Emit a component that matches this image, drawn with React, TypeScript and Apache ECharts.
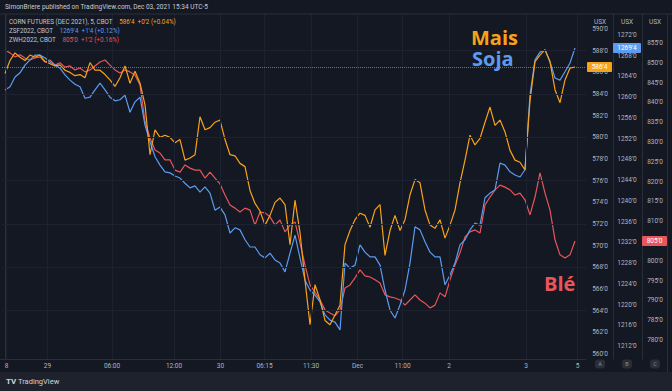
import React, { useEffect, useRef } from 'react';
import * as echarts from 'echarts';

// time index of each sample (5-minute bars, resampled)
const barIndex = Array.from({ length: 115 }, (_, i) => i);

// x-axis tick positions (in bar index) and their labels
const xTickPos = [0.3, 8.5, 21.4, 33.8, 43.1, 51.9, 61.2, 70.5, 79.5, 88.8, 104.2, 114.5];
const xTickLabels = ['8', '29', '06:00', '12:00', '30', '06:15', '11:30', 'Dec', '11:00', '2', '3', '5'];

// y-axis tick labels
const cornTicks = [560, 562, 564, 566, 568, 570, 572, 574, 576, 578, 580, 582, 584, 586, 588, 590];
const soyTicks = [1212, 1216, 1220, 1224, 1228, 1232, 1236, 1240, 1244, 1248, 1252, 1256, 1260, 1264, 1268, 1272];
const wheatTicks = [780, 785, 790, 795, 800, 805, 810, 815, 820, 825, 830, 835, 840, 845, 850, 855];
const gridTicks = [564, 568, 572, 576, 580, 584, 588];

// Corn futures Dec 2021 (USX)
const corn = [
  585.9, 587.1, 587.8, 587.4, 587.1, 587.6, 587.4, 587.6, 587.0, 586.8,
  586.6, 586.7, 586.2, 586.0, 585.7, 585.8, 585.5, 586.9, 586.2, 586.2,
  585.8, 585.3, 584.7, 585.5, 586.6, 585.0, 586.1, 585.0, 583.0, 578.4,
  580.7, 580.0, 580.2, 580.0, 579.5, 579.8, 577.9, 578.1, 578.4, 581.9,
  580.7, 580.9, 581.4, 581.6, 579.8, 578.4, 578.3, 577.6, 577.3, 575.1,
  573.9, 573.2, 571.9, 572.8, 574.0, 574.4, 573.8, 570.1, 574.2, 571.2,
  566.8, 562.7, 566.4, 565.0, 563.1, 562.7, 563.6, 564.5, 570.1, 571.4,
  572.4, 573.0, 572.8, 571.7, 573.3, 573.8, 569.1, 571.4, 572.8, 571.4,
  572.4, 574.7, 576.1, 575.8, 573.3, 571.9, 571.6, 572.4, 570.7, 571.9,
  573.3, 575.8, 577.9, 580.2, 579.3, 579.9, 581.4, 582.8, 581.1, 581.6,
  580.5, 578.8, 577.9, 577.7, 577.0, 583.4, 587.0, 587.6, 588.1, 587.0,
  584.4, 583.2, 585.3, 586.4, 586.5,
];

// Soybeans ZSF2022 (USX)
const soy = [
  1261.4, 1262.0, 1263.9, 1264.7, 1266.2, 1267.2, 1268.1, 1268.1, 1267.6, 1266.8,
  1266.2, 1265.6, 1264.3, 1263.3, 1262.5, 1262.0, 1259.8, 1260.0, 1261.4, 1262.7,
  1261.4, 1260.0, 1259.3, 1259.5, 1260.4, 1257.1, 1259.1, 1260.0, 1254.6, 1251.4,
  1248.5, 1246.9, 1245.6, 1245.4, 1244.8, 1244.4, 1243.4, 1242.5, 1242.9, 1241.7,
  1242.7, 1241.5, 1238.2, 1238.8, 1237.3, 1233.8, 1234.8, 1234.4, 1232.5, 1231.1,
  1231.1, 1229.6, 1229.0, 1229.9, 1228.6, 1228.0, 1226.3, 1229.9, 1233.4, 1229.0,
  1224.7, 1222.8, 1221.8, 1220.5, 1218.0, 1217.0, 1216.6, 1215.1, 1228.0, 1227.0,
  1227.6, 1231.5, 1230.1, 1229.2, 1229.2, 1227.6, 1222.8, 1218.9, 1217.4, 1219.9,
  1222.8, 1228.0, 1235.0, 1234.4, 1232.1, 1230.1, 1229.2, 1229.2, 1223.8, 1225.7,
  1228.0, 1231.5, 1232.5, 1234.4, 1235.7, 1235.3, 1240.6, 1241.5, 1242.1, 1247.3,
  1246.9, 1245.6, 1245.0, 1244.6, 1246.0, 1260.4, 1267.2, 1268.7, 1269.1, 1266.8,
  1263.7, 1263.3, 1264.9, 1266.6, 1269.5,
];

// Wheat ZWH2022 (USX)
const wheat = [
  853.2, 852.5, 851.5, 852.0, 851.2, 850.7, 851.2, 851.5, 850.2, 850.7,
  849.4, 850.0, 848.9, 849.2, 848.2, 848.7, 847.7, 848.2, 849.2, 850.2,
  850.7, 849.4, 848.2, 847.4, 848.2, 847.7, 846.9, 844.4, 835.1, 831.0,
  828.0, 827.2, 825.5, 825.5, 822.9, 822.4, 824.2, 823.4, 822.9, 822.9,
  820.9, 822.4, 820.9, 819.4, 816.6, 814.1, 813.3, 812.3, 813.3, 812.8,
  809.0, 812.3, 812.1, 811.1, 809.0, 810.3, 807.3, 809.0, 809.8, 804.5,
  798.9, 793.9, 792.1, 790.1, 787.6, 786.8, 786.1, 787.6, 793.1, 793.9,
  795.7, 797.7, 796.2, 795.9, 795.2, 794.4, 791.4, 790.9, 790.6, 790.1,
  788.8, 790.1, 791.4, 790.1, 789.3, 788.1, 788.8, 791.9, 790.9, 795.2,
  798.9, 802.0, 806.0, 807.3, 807.8, 807.0, 814.1, 816.1, 817.9, 819.1,
  818.6, 817.9, 816.6, 817.1, 815.4, 811.6, 816.1, 822.2, 817.1, 812.8,
  805.3, 801.5, 800.7, 801.5, 805.0,
];

const lastLabels = { corn: "586'4", soy: "1269'4", wheat: "805'0" };

const ORANGE = '#f7a21b';
const BLUE = '#5b9cf0';
const RED = '#e8555a';
const BG = '#141823';
const TXT = '#b2b5be';
const FONT = 'Roboto, "Noto Sans", sans-serif';

const fmt = (v: number) => `${Math.round(v)}'0`;

export default function App() {
  const ref = useRef<HTMLDivElement>(null);
  useEffect(() => {
    const chart = echarts.init(ref.current!, undefined, { renderer: 'svg' });
    const pairs = (arr: number[]) => arr.map((v, i) => [barIndex[i], v]);
    const option: any = {
      animation: false,
      backgroundColor: BG,
      grid: { left: 2, right: 86, top: 14, bottom: 32, containLabel: false },
      xAxis: {
        type: 'value',
        min: -0.6,
        max: 116.2,
        axisLine: { show: false },
        axisTick: { show: false },
        splitLine: { show: false },
        axisLabel: {
          customValues: xTickPos,
          margin: 3,
          color: TXT,
          fontSize: 6.5,
          fontFamily: FONT,
          formatter: (v: number) => {
            const i = xTickPos.findIndex((p) => Math.abs(p - v) < 0.01);
            return i >= 0 ? xTickLabels[i] : '';
          },
        },
      },
      yAxis: [
        {
          type: 'value', position: 'right', offset: 0, min: 559.54, max: 591.39,
          axisLine: { show: true, lineStyle: { color: '#2a2e39' } },
          axisTick: { show: false }, splitLine: { show: false },
          axisLabel: { customValues: cornTicks, formatter: fmt, color: TXT, fontSize: 6.5, fontFamily: FONT, align: 'center', margin: 14 },
        },
        {
          type: 'value', position: 'right', offset: 27, min: 1209.49, max: 1276.05,
          axisLine: { show: true, lineStyle: { color: '#2a2e39' } },
          axisTick: { show: false }, splitLine: { show: false },
          axisLabel: { customValues: soyTicks, formatter: fmt, color: TXT, fontSize: 6.5, fontFamily: FONT, align: 'center', margin: 14 },
        },
        {
          type: 'value', position: 'right', offset: 56, min: 775.2, max: 862.32,
          axisLine: { show: true, lineStyle: { color: '#2a2e39' } },
          axisTick: { show: false }, splitLine: { show: false },
          axisLabel: { customValues: wheatTicks, formatter: fmt, color: TXT, fontSize: 6.5, fontFamily: FONT, align: 'center', margin: 13 },
        },
      ],
      series: [
        {
          name: 'grid', type: 'line', data: [], yAxisIndex: 0, silent: true, z: 1,
          markLine: {
            silent: true, symbol: 'none', label: { show: false },
            lineStyle: { color: '#1e2230', width: 1, type: 'solid' },
            data: [
              ...gridTicks.map((v) => ({ yAxis: v })),
              ...xTickPos.map((v) => ({ xAxis: v })),
            ],
          },
        },
        {
          name: 'ZWH2022', type: 'line', data: pairs(wheat), yAxisIndex: 2, showSymbol: false, z: 2,
          lineStyle: { color: RED, width: 1.2 }, itemStyle: { color: RED },
        },
        {
          name: 'ZSF2022', type: 'line', data: pairs(soy), yAxisIndex: 1, showSymbol: false, z: 3,
          lineStyle: { color: BLUE, width: 1.2 }, itemStyle: { color: BLUE },
        },
        {
          name: 'CORN', type: 'line', data: pairs(corn), yAxisIndex: 0, showSymbol: false, z: 4,
          lineStyle: { color: ORANGE, width: 1.2 }, itemStyle: { color: ORANGE },
          markLine: {
            silent: true, symbol: 'none', label: { show: false },
            lineStyle: { color: ORANGE, width: 1, type: 'dotted', opacity: 0.6 },
            data: [{ yAxis: corn[corn.length - 1] }],
          },
        },
      ],
    };
    chart.setOption(option);

    const yC = chart.convertToPixel({ yAxisIndex: 0 }, corn[corn.length - 1]) as number;
    const yS = chart.convertToPixel({ yAxisIndex: 1 }, soy[soy.length - 1]) as number;
    const yW = chart.convertToPixel({ yAxisIndex: 2 }, wheat[wheat.length - 1]) as number;

    const txt = (x: number, y: number, text: string, fill: string, size: number, extra: any = {}) => ({
      type: 'text', x, y, z: 100,
      style: { text, fill, fontSize: size, fontFamily: FONT, align: 'left', verticalAlign: 'middle', ...extra },
    });
    const tag = (x: number, w: number, y: number, text: string, color: string) => ({
      type: 'group', z: 100,
      children: [
        { type: 'rect', shape: { x, y: y - 5, width: w, height: 10, r: 1 }, style: { fill: color }, z: 100 },
        { type: 'text', x: x + w / 2, y, z: 101, style: { text, fill: '#ffffff', fontSize: 6.5, fontFamily: FONT, align: 'center', verticalAlign: 'middle' } },
      ],
    });
    const badge = (cx: number, letter: string) => ({
      type: 'group', z: 100,
      children: [
        { type: 'rect', shape: { x: cx - 5, y: 359.5, width: 10, height: 9, r: 3 }, style: { fill: '#2a2e39' } },
        { type: 'text', x: cx, y: 364, style: { text: letter, fill: '#8a8e99', fontSize: 5.5, fontFamily: FONT, align: 'center', verticalAlign: 'middle' } },
      ],
    });
    const rich = {
      g: { fill: '#c3c6ce', fontSize: 6.3, fontFamily: FONT },
      o: { fill: ORANGE, fontSize: 6.3, fontFamily: FONT },
      b: { fill: BLUE, fontSize: 6.3, fontFamily: FONT },
      r: { fill: RED, fontSize: 6.3, fontFamily: FONT },
    };
    const big = { fontWeight: 'bold', fontFamily: '"Open Sans", sans-serif', lineHeight: 17 };
    chart.setOption({
      graphic: [
        { type: 'rect', shape: { x: 0, y: 372, width: 672, height: 19 }, style: { fill: '#1e222d' }, z: 90 },
        { type: 'line', shape: { x1: 0, y1: 14, x2: 672, y2: 14 }, style: { stroke: '#2a2e39', lineWidth: 1 }, z: 90 },
        { type: 'line', shape: { x1: 667.5, y1: 14, x2: 667.5, y2: 372 }, style: { stroke: '#2a2e39', lineWidth: 1 }, z: 90 },
        { type: 'line', shape: { x1: 0, y1: 359.5, x2: 586, y2: 359.5 }, style: { stroke: '#2a2e39', lineWidth: 1 }, z: 90 },
        txt(5, 7, 'SimonBriere published on TradingView.com, Dec 03, 2021 15:34 UTC-5', '#c9ccd3', 6.5),
        { type: 'text', x: 9, y: 22, z: 100, style: { text: "{g|CORN FUTURES (DEC 2021), 5, CBOT}  {o|586'4  +0'2 (+0.04%)}", rich, verticalAlign: 'middle' } },
        { type: 'text', x: 9, y: 31, z: 100, style: { text: "{g|ZSF2022, CBOT}  {b|1269'4  +1'4 (+0.12%)}", rich, verticalAlign: 'middle' } },
        { type: 'text', x: 9, y: 40, z: 100, style: { text: "{g|ZWH2022, CBOT}  {r|805'0  +1'2 (+0.16%)}", rich, verticalAlign: 'middle' } },
        txt(600, 22, 'USX', TXT, 6.5, { align: 'center' }),
        txt(627, 22, 'USX', TXT, 6.5, { align: 'center' }),
        txt(655, 22, 'USX', TXT, 6.5, { align: 'center' }),
        txt(471, 37, 'Mais', ORANGE, 20, big),
        txt(472, 58, 'Soja', BLUE, 20, big),
        txt(544, 283, 'Blé', RED, 20, big),
        tag(587, 25, yC, lastLabels.corn, ORANGE),
        tag(613, 28, yS, lastLabels.soy, BLUE),
        tag(642, 25, yW, lastLabels.wheat, RED),
        badge(600, 'A'),
        badge(627, 'B'),
        badge(655, 'C'),
        txt(6, 381, 'TV', '#d1d4dc', 8, { fontWeight: 'bold' }),
        txt(18, 381, 'TradingView', '#d1d4dc', 7.5),
      ],
    });
    return () => chart.dispose();
  }, []);
  return <div ref={ref} style={{ position: 'fixed', left: 0, top: 0, width: 672, height: 391 }} />;
}
